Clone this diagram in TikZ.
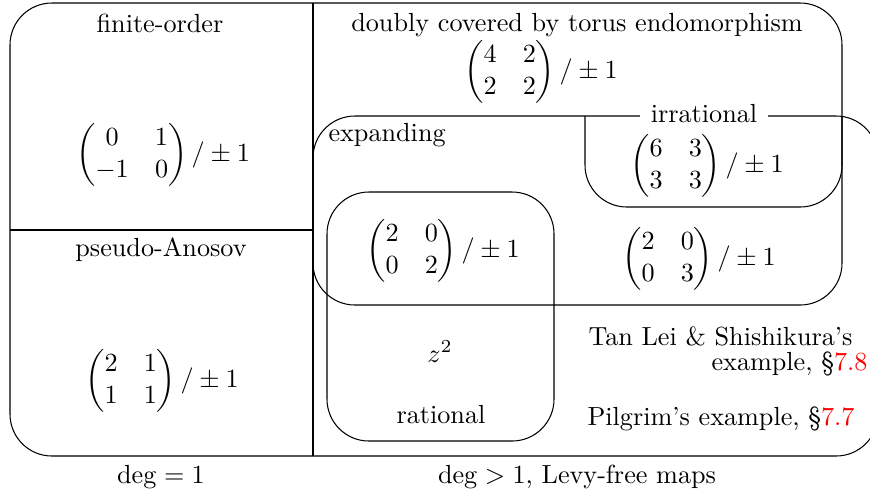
\documentclass[tikz,border=0pt]{standalone}
\usepackage{amsmath}
\begin{document}
\begin{tikzpicture}[x=0.382pt,y=-0.382pt,
  rc/.style={rounded corners=16pt},
  lbl/.style={inner sep=0pt, anchor=base},
  mat/.style={inner sep=0pt, anchor=center}]
\clip (0,0) rectangle (870,496);
% outer contour with the expanding / right-hand region
\draw[rc] (313,3) -- (10,3) -- (10,456) -- (878,456) -- (878,116) -- (313,116)
  -- (313,305) -- (842,305) -- (842,3) -- (313,3);
% dividers
\draw (313,3) -- (313,456);
\draw (10,230) -- (313,230);
% irrational box
\draw[rc] (585,116) -- (585,207) -- (842,207) -- (842,116);
% rational box
\draw[rc] (327,192) rectangle (554,441);
% labels
\node[lbl] (fo) at (160,32) {finite-order};
\node[mat] (m1) at (163,155) {$\begin{pmatrix}0&1\\-1&0\end{pmatrix}/\pm1$};
\node[lbl] (pa) at (161,256) {pseudo-Anosov};
\node[mat] (m2) at (162,381) {$\begin{pmatrix}2&1\\1&1\end{pmatrix}/\pm1$};
\node[lbl] (d1) at (161,483) {$\deg=1$};
\node[lbl] (dc) at (577,31) {doubly covered by torus endomorphism};
\node[mat] (m3) at (541,72) {$\begin{pmatrix}4&2\\2&2\end{pmatrix}/\pm1$};
\node[lbl, fill=white, inner sep=4pt] (ir) at (704,122) {irrational};
\node[mat] (m4) at (707,166) {$\begin{pmatrix}6&3\\3&3\end{pmatrix}/\pm1$};
\node[lbl, anchor=base west] (ex) at (328,141) {expanding};
\node[mat] (m5) at (443,251) {$\begin{pmatrix}2&0\\0&2\end{pmatrix}/\pm1$};
\node[mat] (m6) at (699,259) {$\begin{pmatrix}2&0\\0&3\end{pmatrix}/\pm1$};
\node[lbl] (z2) at (440,362) {$z^2$};
\node[lbl] (ra) at (441,423) {rational};
\node[lbl, anchor=base west] (tl1) at (588,345) {Tan Lei \& Shishikura's};
\node[lbl, anchor=base east] (tl2) at (868,370) {example, \S\textcolor{red}{7.8}};
\node[lbl, anchor=base west] (pg) at (587,425) {Pilgrim's example, \S\textcolor{red}{7.7}};
\node[lbl] (dg) at (577,483) {$\deg>1$, Levy-free maps};
\end{tikzpicture}
\end{document}
